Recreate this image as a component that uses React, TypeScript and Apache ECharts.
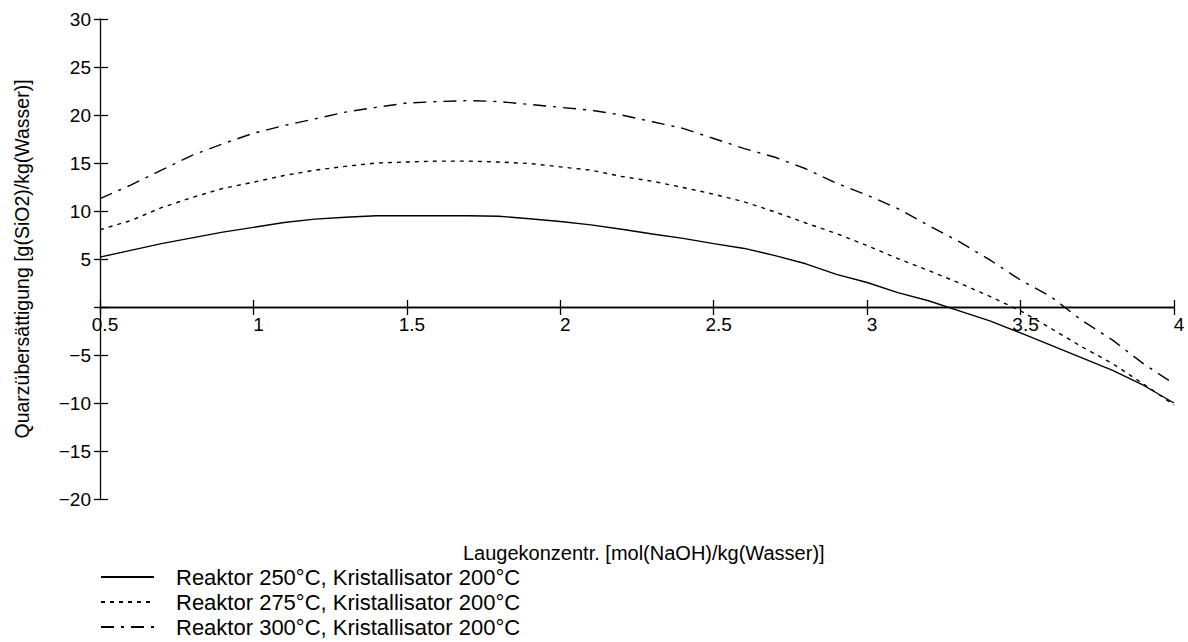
import React, { useEffect, useRef } from "react";
import * as echarts from "echarts";

const xValues = [
  0.5, 0.6, 0.7, 0.8, 0.9, 1.0, 1.1, 1.2, 1.3, 1.4, 1.5, 1.6, 1.7, 1.8, 1.9, 2.0, 2.1, 2.2,
  2.3, 2.4, 2.5, 2.6, 2.7, 2.8, 2.9, 3.0, 3.1, 3.2, 3.3, 3.4, 3.5, 3.6, 3.7, 3.8, 3.9, 4.0,
];

const reaktor250 = [
  5.2, 5.9, 6.6, 7.2, 7.8, 8.3, 8.8, 9.15, 9.35, 9.5, 9.5, 9.5, 9.5, 9.45, 9.2, 8.9, 8.55, 8.1,
  7.6, 7.15, 6.6, 6.1, 5.35, 4.5, 3.4, 2.55, 1.5, 0.65, -0.4, -1.45, -2.7, -4.0, -5.3, -6.6, -8.15, -10.0,
];

const reaktor275 = [
  8.05, 9.0, 10.35, 11.4, 12.35, 13.0, 13.7, 14.25, 14.65, 15.0, 15.1, 15.2, 15.2, 15.1, 14.95, 14.6, 14.25, 13.6,
  13.1, 12.45, 11.75, 10.95, 9.9, 8.75, 7.65, 6.4, 5.05, 3.8, 2.5, 1.1, -0.4, -2.25, -4.15, -5.9, -8.0, -10.2,
];

const reaktor300 = [
  11.3, 12.7, 14.25, 15.8, 17.0, 18.1, 18.9, 19.6, 20.3, 20.8, 21.25, 21.4, 21.5, 21.4, 21.1, 20.8, 20.5, 20.0,
  19.3, 18.6, 17.55, 16.5, 15.6, 14.4, 12.9, 11.65, 10.25, 8.5, 6.8, 4.9, 2.8, 1.05, -1.4, -3.45, -5.9, -8.0,
];

const seriesNames = [
  "Reaktor 250°C, Kristallisator 200°C",
  "Reaktor 275°C, Kristallisator 200°C",
  "Reaktor 300°C, Kristallisator 200°C",
];

const xAxisTitle = "Laugekonzentr. [mol(NaOH)/kg(Wasser)]";
const yAxisTitle = "Quarzübersättigung [g(SiO2)/kg(Wasser)]";

const FONT = "'Liberation Sans', Arial, Helvetica, sans-serif";

function pairs(ys: number[]) {
  return xValues.map((x, i) => [x, ys[i]]);
}

export default function App() {
  const ref = useRef<HTMLDivElement>(null);

  useEffect(() => {
    if (!ref.current) return;
    const chart = echarts.init(ref.current, undefined, { renderer: "svg" });

    const yLabelFmt = (v: number) =>
      v === 0 ? "" : v < 0 ? "\u2212" + Math.abs(v) : String(v);

    const lineTypes: any[] = ["solid", [4, 5], [13, 7, 3, 7]];
    const dataSets = [reaktor250, reaktor275, reaktor300];

    chart.setOption({
      animation: false,
      backgroundColor: "#fff",
      textStyle: { fontFamily: FONT },
      grid: { left: 100, right: 14, top: 19, bottom: 143, containLabel: false },
      xAxis: [
        {
          type: "value",
          min: 0.5,
          max: 4,
          interval: 0.5,
          position: "bottom",
          axisLine: { show: true, onZero: true, onZeroAxisIndex: 0, lineStyle: { color: "#000", width: 1.3 } },
          axisTick: { show: true, inside: false, length: 8, lineStyle: { color: "#000", width: 1.3 } },
          axisLabel: {
            show: true,
            color: "#000",
            fontSize: 19,
            fontFamily: FONT,
            margin: -184,
            padding: [0, 0, 0, 10],
          },
          splitLine: { show: false },
        },
        {
          type: "value",
          min: 0.5,
          max: 4,
          interval: 0.5,
          position: "bottom",
          axisLine: { show: true, onZero: true, onZeroAxisIndex: 1, lineStyle: { color: "#000", width: 1.3 } },
          axisTick: { show: true, inside: true, length: 7, lineStyle: { color: "#000", width: 1.3 } },
          axisLabel: { show: false },
          splitLine: { show: false },
        },
      ],
      yAxis: [
        {
          type: "value",
          min: -20,
          max: 30,
          interval: 5,
          position: "left",
          name: yAxisTitle,
          nameLocation: "middle",
          nameGap: 68,
          nameTextStyle: { color: "#000", fontSize: 19.5, fontFamily: FONT },
          axisLine: { show: true, onZero: false, lineStyle: { color: "#000", width: 1.3 } },
          axisTick: { show: true, inside: false, length: 6, lineStyle: { color: "#000", width: 1.3 } },
          axisLabel: {
            show: true,
            color: "#000",
            fontSize: 19,
            fontFamily: FONT,
            margin: 9,
            formatter: yLabelFmt,
          },
          splitLine: { show: false },
        },
        {
          type: "value",
          min: -20,
          max: 30,
          interval: 5,
          position: "left",
          axisLine: { show: false, onZero: false },
          axisTick: { show: true, inside: true, length: 8, lineStyle: { color: "#000", width: 1.3 } },
          axisLabel: { show: false },
          splitLine: { show: false },
        },
      ],
      legend: {
        show: true,
        orient: "vertical",
        left: 100,
        top: 566,
        itemWidth: 53,
        itemHeight: 14,
        itemGap: 3,
        padding: 0,
        itemStyle: { opacity: 0 },
        textStyle: { color: "#000", fontSize: 22, fontFamily: FONT, padding: [0, 0, 0, 17] },
        data: seriesNames,
      },
      graphic: [
        {
          type: "text",
          left: 463,
          top: 543,
          style: {
            text: xAxisTitle,
            fill: "#000",
            fontSize: 20,
            fontFamily: FONT,
          },
        },
      ],
      series: dataSets.map((ys, i) => ({
        name: seriesNames[i],
        type: "line",
        xAxisIndex: 0,
        yAxisIndex: 0,
        data: pairs(ys),
        symbol: "none",
        showSymbol: false,
        smooth: false,
        lineStyle: { color: "#000", width: 1.4, type: lineTypes[i] },
        itemStyle: { color: "#000" },
      })),
    });

    return () => chart.dispose();
  }, []);

  return (
    <div
      ref={ref}
      style={{ position: "fixed", left: 0, top: 0, width: 1188, height: 642, background: "#fff" }}
    />
  );
}
